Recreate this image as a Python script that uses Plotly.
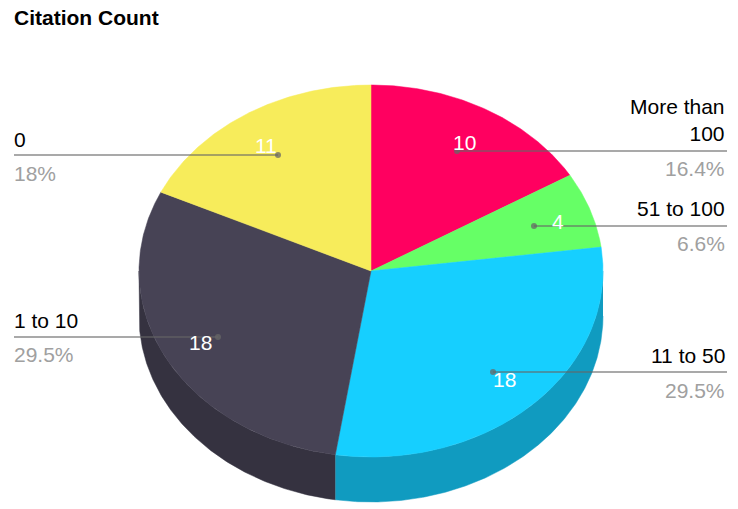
import numpy as np
import plotly.graph_objects as go

categories = ["More than 100", "51 to 100", "11 to 50", "1 to 10", "0"]
values = [10, 4, 18, 18, 11]
percent_labels = ["16.4%", "6.6%", "29.5%", "29.5%", "18%"]
category_labels = ["More than<br>100", "51 to 100", "11 to 50", "1 to 10", "0"]

colors = ["#FF0060", "#66FF66", "#16CFFF", "#474355", "#F7EC5B"]
wall_colors = ["#BF0048", "#4CBF4C", "#109BC0", "#353240", "#B9B144"]

# everything below is laid out in page pixels
W, H = 738, 509
CX, CY, RX, RY, DEPTH = 371, 271, 232, 186, 45
FONT = "Liberation Sans"
LEADER = "rgba(103,103,103,0.75)"

# leader anchors: dot x, dot y, line end x
leaders = [(457, 151, 727), (534, 226, 727), (493, 372, 727), (218, 337, 14), (278, 155, 14)]
value_pos = [(464, 142), (558, 221), (504, 379), (200, 342), (266, 145)]
# label y, percent y, for each category
label_y = [120, 208, 355, 320, 139]
percent_y = [168, 243, 390, 354, 173]


def rim(a, b, dy=0):
    t = np.radians(np.linspace(a, b, max(int(abs(b - a) * 2), 2)))
    return CX + RX * np.sin(t), CY + dy - RY * np.cos(t)


fig = go.Figure()

edges = np.concatenate([[0], np.cumsum(values)]) / sum(values) * 360

# side wall first, only the front half of the rim shows
for i in range(len(values)):
    a, b = max(edges[i], 90), min(edges[i + 1], 270)
    if a >= b:
        continue
    x1, y1 = rim(a, b)
    x2, y2 = rim(b, a, DEPTH)
    fig.add_trace(go.Scatter(x=np.concatenate([x1, x2]), y=np.concatenate([y1, y2]), mode="lines",
                             fill="toself", fillcolor=wall_colors[i], line=dict(width=0.5, color=wall_colors[i])))

for i in range(len(values)):
    x, y = rim(edges[i], edges[i + 1])
    fig.add_trace(go.Scatter(x=np.concatenate([[CX], x, [CX]]), y=np.concatenate([[CY], y, [CY]]), mode="lines",
                             fill="toself", fillcolor=colors[i], line=dict(width=0.5, color=colors[i])))

for dot_x, dot_y, end_x in leaders:
    fig.add_trace(go.Scatter(x=[dot_x, end_x], y=[dot_y, dot_y], mode="lines",
                             line=dict(color=LEADER, width=1.3)))
    fig.add_trace(go.Scatter(x=[dot_x], y=[dot_y], mode="markers",
                             marker=dict(size=6, color=LEADER, line=dict(width=0))))

annotations = []
for i in range(len(values)):
    left = leaders[i][2] < 100
    common = dict(xref="x", yref="y", showarrow=False, yanchor="middle",
                  xanchor="left" if left else "right", align="left" if left else "right")
    # annotations carry 2px of padding, hence 12 and 727
    text_x = 12 if left else 727
    annotations.append(dict(x=value_pos[i][0], y=value_pos[i][1], text=str(values[i]), xref="x", yref="y",
                            showarrow=False, font=dict(family=FONT, size=21, color="white")))
    annotations.append(dict(x=text_x, y=label_y[i], text=category_labels[i],
                            font=dict(family=FONT, size=21, color="black"), **common))
    annotations.append(dict(x=text_x, y=percent_y[i], text=percent_labels[i],
                            font=dict(family=FONT, size=21, color="#A0A0A0"), **common))

annotations.append(dict(x=12, y=17, text="<b>Citation Count</b>", xref="x", yref="y", showarrow=False,
                        xanchor="left", yanchor="middle", font=dict(family=FONT, size=21, color="black")))

fig.update_layout(
    width=W, height=H, margin=dict(l=0, r=0, t=0, b=0),
    paper_bgcolor="white", plot_bgcolor="white",
    showlegend=False, hovermode=False, annotations=annotations,
    xaxis=dict(range=[0, W], visible=False, fixedrange=True),
    yaxis=dict(range=[H, 0], visible=False, fixedrange=True),
)

# the browser's default body margin would push the whole chart 8px off
fig.write_html("out.html", config={"displayModeBar": False},
               post_script="document.body.style.margin='0';document.body.style.overflow='hidden';")
